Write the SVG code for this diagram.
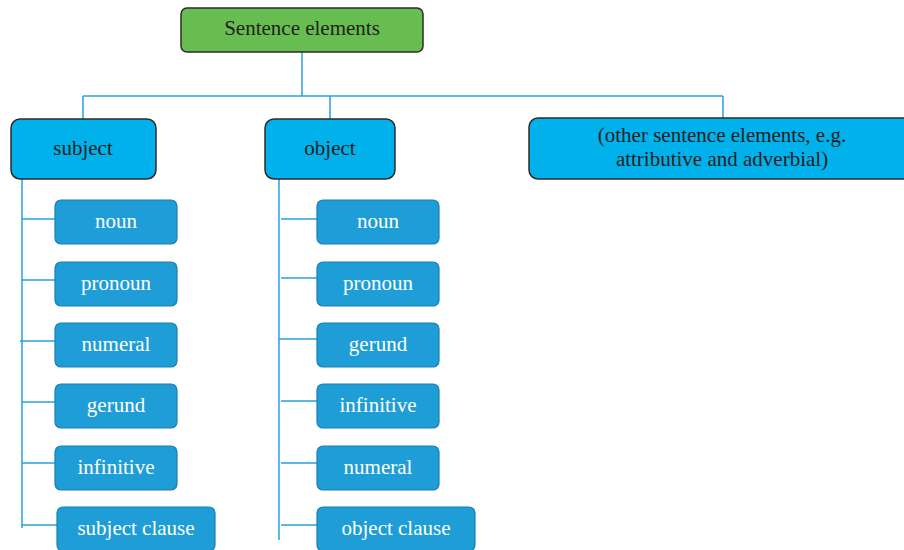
<svg xmlns="http://www.w3.org/2000/svg" width="904" height="550" viewBox="0 0 904 550">
<style>
.root{fill:#67bd50;stroke:#2b2b2b;stroke-width:1.5}
.main{fill:#00b1ec;stroke:#2b2b2b;stroke-width:1.5}
.leaf{fill:#1f9dd7;stroke:#1a7fb3;stroke-width:1.2}
.dark{font-family:"Liberation Serif",serif;font-size:21px;fill:#231f20;text-anchor:middle}
.light{font-family:"Liberation Serif",serif;font-size:21px;fill:#ffffff;text-anchor:middle}
.ln{stroke:#29a3dc;stroke-width:1.5;fill:none}
</style>
<rect width="904" height="550" fill="#ffffff"/>
<g id="connectors">
<path class="ln" d="M302 52V96M83 96H723M83 96V119M330 96V119M723 96V118"/>
<path class="ln" d="M22 179V528M22 219H55M22 280H55M20 341H55M22 402H55M22 463H55M22 525H57"/>
<path class="ln" d="M279 179V540M281 219H317M281 278H317M279 339H317M281 401H317M281 463H317M281 525H317"/>
</g>
<g id="n-root"><rect class="root" x="181" y="8" width="242" height="44" rx="6"/><text class="dark" x="302" y="35">Sentence elements</text></g>
<g id="n-subject"><rect class="main" x="11" y="119" width="145" height="60" rx="9"/><text class="dark" x="83" y="155">subject</text></g>
<g id="n-object"><rect class="main" x="265" y="119" width="130" height="60" rx="9"/><text class="dark" x="330" y="155">object</text></g>
<g id="n-other"><rect class="main" x="529" y="118" width="385" height="61" rx="9"/><text class="dark" x="722" y="142">(other sentence elements, e.g.</text><text class="dark" x="722" y="166">attributive and adverbial)</text></g>
<g id="s-noun"><rect class="leaf" x="55" y="200" width="122" height="44" rx="6"/><text class="light" x="116" y="228">noun</text></g>
<g id="s-pronoun"><rect class="leaf" x="55" y="262" width="122" height="44" rx="6"/><text class="light" x="116" y="290">pronoun</text></g>
<g id="s-numeral"><rect class="leaf" x="55" y="323" width="122" height="44" rx="6"/><text class="light" x="116" y="351">numeral</text></g>
<g id="s-gerund"><rect class="leaf" x="55" y="384" width="122" height="44" rx="6"/><text class="light" x="116" y="412">gerund</text></g>
<g id="s-infinitive"><rect class="leaf" x="55" y="446" width="122" height="44" rx="6"/><text class="light" x="116" y="474">infinitive</text></g>
<g id="s-clause"><rect class="leaf" x="57" y="507" width="158" height="44" rx="6"/><text class="light" x="136" y="535">subject clause</text></g>
<g id="o-noun"><rect class="leaf" x="317" y="200" width="122" height="44" rx="6"/><text class="light" x="378" y="228">noun</text></g>
<g id="o-pronoun"><rect class="leaf" x="317" y="262" width="122" height="44" rx="6"/><text class="light" x="378" y="290">pronoun</text></g>
<g id="o-gerund"><rect class="leaf" x="317" y="323" width="122" height="44" rx="6"/><text class="light" x="378" y="351">gerund</text></g>
<g id="o-infinitive"><rect class="leaf" x="317" y="384" width="122" height="44" rx="6"/><text class="light" x="378" y="412">infinitive</text></g>
<g id="o-numeral"><rect class="leaf" x="317" y="446" width="122" height="44" rx="6"/><text class="light" x="378" y="474">numeral</text></g>
<g id="o-clause"><rect class="leaf" x="317" y="507" width="158" height="44" rx="6"/><text class="light" x="396" y="535">object clause</text></g>
</svg>
